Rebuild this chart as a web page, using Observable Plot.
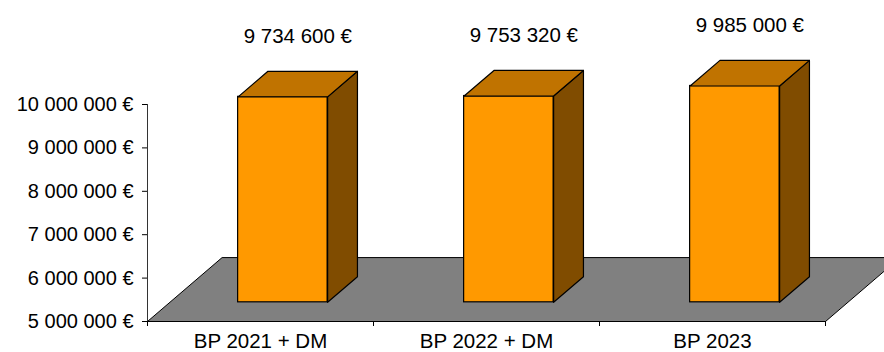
<!DOCTYPE html>
<html>
<head>
<meta charset="utf-8">
<script src="https://cdn.jsdelivr.net/npm/d3@7"></script>
<script src="https://cdn.jsdelivr.net/npm/@observablehq/plot@0.6"></script>
<style>
  html, body { margin: 0; padding: 0; background: white; overflow: hidden; }
</style>
</head>
<body>
<div id="chart"></div>
<script>
const categories = ["BP 2021 + DM", "BP 2022 + DM", "BP 2023"];
const values = [9734600, 9753320, 9985000];
const yTicks = [5000000, 6000000, 7000000, 8000000, 9000000, 10000000];
const yMin = 5000000, yMax = 10000000;

// oblique 3D projection, full floor depth expressed in data units
const DX = 0.33;        // x units per full depth
const DY = 1472700;     // y units per full depth
const D0 = 0.3, D1 = 0.7;        // bar depth span
const B0 = 0.302, B1 = 0.698;    // bar x span within category
const P = (x, y, d) => ({x: x + d * DX, y: y + d * DY});

const fmt = v => d3.format(",")(v).replace(/,/g, " ") + " €";

const floor = [P(0, yMin, 0), P(3, yMin, 0), P(3, yMin, 1), P(0, yMin, 1), P(0, yMin, 0)];

const fronts = values.map((v, i) => ({
  x1: i + B0 + D0 * DX, x2: i + B1 + D0 * DX,
  y1: yMin + D0 * DY, y2: v + D0 * DY
}));
const sides = values.flatMap((v, i) => [
  P(i + B1, yMin, D0), P(i + B1, yMin, D1), P(i + B1, v, D1), P(i + B1, v, D0), P(i + B1, yMin, D0)
].map(p => ({...p, i})));
const tops = values.flatMap((v, i) => [
  P(i + B0, v, D0), P(i + B1, v, D0), P(i + B1, v, D1), P(i + B0, v, D1), P(i + B0, v, D0)
].map(p => ({...p, i})));

const font = "'Liberation Sans', Arial, Helvetica, sans-serif";

const chart = Plot.plot({
  width: 884,
  height: 352,
  marginLeft: 147,
  marginRight: 59,
  marginTop: 104,
  marginBottom: 31,
  x: {domain: [0, 3], axis: null},
  y: {domain: [yMin, yMax], axis: null},
  style: {fontFamily: font, fontSize: "20px", background: "white", overflow: "hidden", color: "black"},
  marks: [
    Plot.line(floor, {x: "x", y: "y", fill: "#808080", stroke: "black", strokeWidth: 1}),
    Plot.rect(fronts, {x1: "x1", x2: "x2", y1: "y1", y2: "y2", fill: "#FF9900", stroke: "black", strokeWidth: 1.2}),
    Plot.line(sides, {x: "x", y: "y", z: "i", fill: "#804C00", stroke: "black", strokeWidth: 1.2}),
    Plot.line(tops, {x: "x", y: "y", z: "i", fill: "#C07300", stroke: "black", strokeWidth: 1.2}),
    Plot.ruleX([0], {y1: yMin, y2: yMax, stroke: "#333", strokeWidth: 1}),
    Plot.axisY({ticks: yTicks, tickFormat: fmt, tickSize: 5, tickPadding: 9, fontSize: 20, label: null}),
    Plot.axisX({ticks: [0, 1, 2, 3], tickFormat: () => "", tickSize: 5, label: null}),
    Plot.text(categories, {x: (d, i) => i + 0.5, y: yMin, dy: 20, text: d => d, fontSize: 20.5, fill: "black"}),
    Plot.text(values, {x: (d, i) => i + 0.5 + 0.5 * DX, y: d => d, dy: -80, text: d => fmt(d), fontSize: 20.5, fill: "black"})
  ]
});
document.getElementById("chart").appendChild(chart);
</script>
</body>
</html>
